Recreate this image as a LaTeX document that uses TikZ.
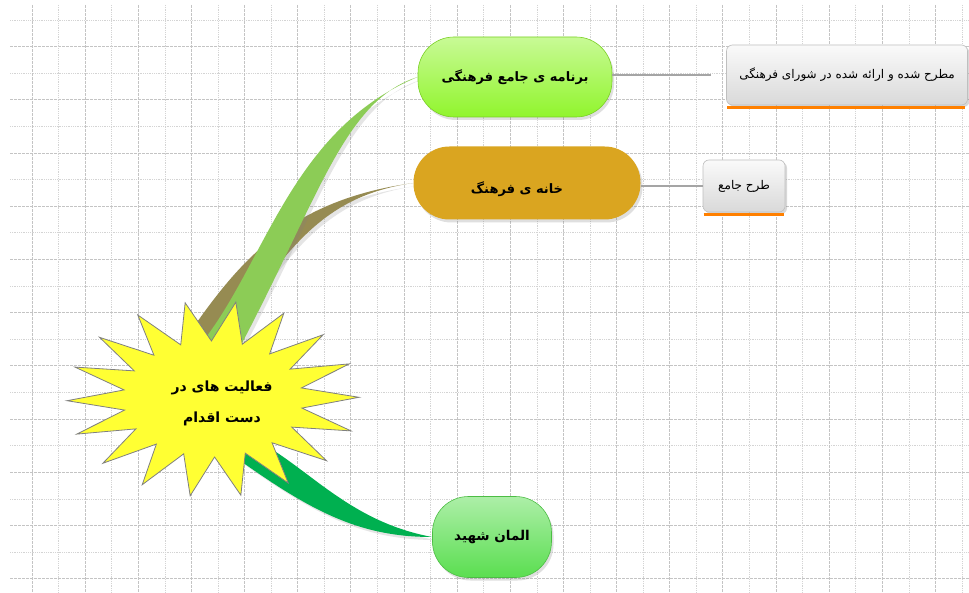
\documentclass[tikz,border=0pt]{standalone}
\usepackage{fontspec}
\usepackage{tikz}
\usetikzlibrary{shadows}
\usetikzlibrary{calc}
\newfontfamily\farsi[Script=Arabic]{DejaVu Sans}
\TeXXeTstate=1
\definecolor{grigio}{RGB}{212,212,212}
\definecolor{grigioscuro}{RGB}{196,196,196}
\definecolor{giallo}{RGB}{255,255,51}
\definecolor{verdelime}{RGB}{145,245,45}
\definecolor{verdino}{RGB}{140,204,86}
\definecolor{oliva}{RGB}{150,139,82}
\definecolor{verdescuro}{RGB}{0,176,80}
\definecolor{verdeprato}{RGB}{90,222,80}
\definecolor{oro}{RGB}{218,165,32}
\definecolor{arancio}{RGB}{255,128,0}
\definecolor{filogrigio}{RGB}{165,165,165}
\tikzset{
  mappa/.style={
    linea minore/.style={draw=grigio,line width=.6pt,dash pattern=on .6pt off 1.2pt},
    linea maggiore/.style={draw=grigioscuro,line width=.7pt,dash pattern=on 3pt off 1pt},
    nastro/.style={drop shadow={opacity=.2,shadow xshift=3pt,shadow yshift=-3pt}},
    stella/.style={fill=giallo,draw=gray,line width=.8pt,line join=miter},
    scritta/.style={font=\fontsize{14}{31}\farsi\bfseries,align=center,text=black},
    ramo/.style={rounded corners=36pt,inner sep=0pt,scritta,
      drop shadow={opacity=.25,shadow xshift=2pt,shadow yshift=-3pt}},
    nota/.style={rounded corners=6pt,inner sep=0pt,draw=gray!50,line width=.6pt,
      top color=white!96!gray,bottom color=gray!30,
      font=\fontsize{12}{15}\farsi,text=black,
      drop shadow={opacity=.3,shadow xshift=2pt,shadow yshift=-2pt}},
    filo/.style={draw=filogrigio,line width=2pt},
    sottolineatura/.style={draw=arancio,line width=3pt},
  }
}
\pgfdeclarelayer{sfondo}
\pgfdeclarelayer{rami}
\pgfsetlayers{sfondo,rami,main}
\begin{document}
\begin{tikzpicture}[mappa,x=1pt,y=-1pt]
  \useasboundingbox (0,0) rectangle (969,593);
  \begin{pgfonlayer}{sfondo}
    \fill[white] (0,0) rectangle (969,593);
    \foreach \k in {0,...,10}{
      \draw[linea minore] (10,{20+53.2*\k}) -- (969,{20+53.2*\k});
      \draw[linea maggiore] (10,{46.6+53.2*\k}) -- (969,{46.6+53.2*\k});
    }
    \foreach \k in {0,...,17}{
      \draw[linea maggiore] ({32+53.14*\k},5) -- ({32+53.14*\k},593);
      \draw[linea minore] ({58.57+53.14*\k},5) -- ({58.57+53.14*\k},593);
    }
  \end{pgfonlayer}

  \coordinate (centro) at (213,399);
  \path[stella] ({213+146*cos(-81)},{399+98*sin(-81)})
    \foreach \k in {0,...,17}{
      -- ({213+90*cos(-71+20*\k)},{399+58*sin(-71+20*\k)})
      -- ({213+146*cos(-61+20*\k)},{399+98*sin(-61+20*\k)})
    } -- cycle;
  \node[scritta] (burst) at (222,403) {\beginR فعالیت های در\endR\\\beginR دست اقدام\endR};

  \node[ramo,minimum width=194pt,minimum height=80pt,draw=verdelime!85!black,line width=.6pt,
    top color=verdelime!50!white,bottom color=verdelime,font=\fontsize{13}{15}\farsi\bfseries] (n1) at (515,77)
    {\beginR برنامه ی جامع فرهنگی\endR};
  \node[ramo,minimum width=227pt,minimum height=73pt,fill=oro,font=\fontsize{13}{15}\farsi\bfseries] (n2) at (527,183)
    {\raisebox{-11pt}[0pt][0pt]{\beginR خانه ی فرهنگ\endR}\hspace*{20pt}};
  \node[ramo,minimum width=119pt,minimum height=81pt,draw=verdeprato!85!black,line width=.6pt,
    top color=verdeprato!50!white,bottom color=verdeprato,font=\fontsize{13.5}{16}\farsi\bfseries] (n3) at (492,537)
    {\beginR المان شهید\endR};

  \node[nota,minimum width=241pt,minimum height=60pt] (b1) at (847,75)
    {\beginR مطرح شده و ارائه شده در شورای فرهنگی\endR};
  \node[nota,minimum width=82pt,minimum height=52pt] (b2) at (744,186)
    {\beginR طرح جامع\endR};
  \draw[sottolineatura] ([xshift=1pt,yshift=-2pt]b1.south west) -- ([xshift=-3pt,yshift=-2pt]b1.south east);
  \draw[sottolineatura] ([xshift=1pt,yshift=-2pt]b2.south west) -- ([xshift=-1pt,yshift=-2pt]b2.south east);

  \draw[filo,shorten >=15pt] (n1.east |- b1.west) -- (b1.west);
  \draw[filo] (n2.east |- b2.west) -- (b2.west);

  \begin{pgfonlayer}{rami}
    \fill[nastro,oliva] ($(centro)+(-25,-64)$) .. controls (240,260) and (290,200) .. (n2.west)
      .. controls (330,195) and (290,240) .. ($(centro)+(17,-64)$) -- cycle;
    \fill[nastro,verdino] ($(centro)+(-13,-54)$) .. controls (265,265) and (290,130) .. (n1.west)
      .. controls (345,100) and (320,195) .. ($(centro)+(28,-54)$) -- cycle;
    \fill[nastro,verdescuro] ($(centro)+(25,33)$) .. controls (300,455) and (340,520) .. (n3.west)
      .. controls (360,537) and (312,512) .. ($(centro)+(22,58)$) -- cycle;
  \end{pgfonlayer}
\end{tikzpicture}
\end{document}
